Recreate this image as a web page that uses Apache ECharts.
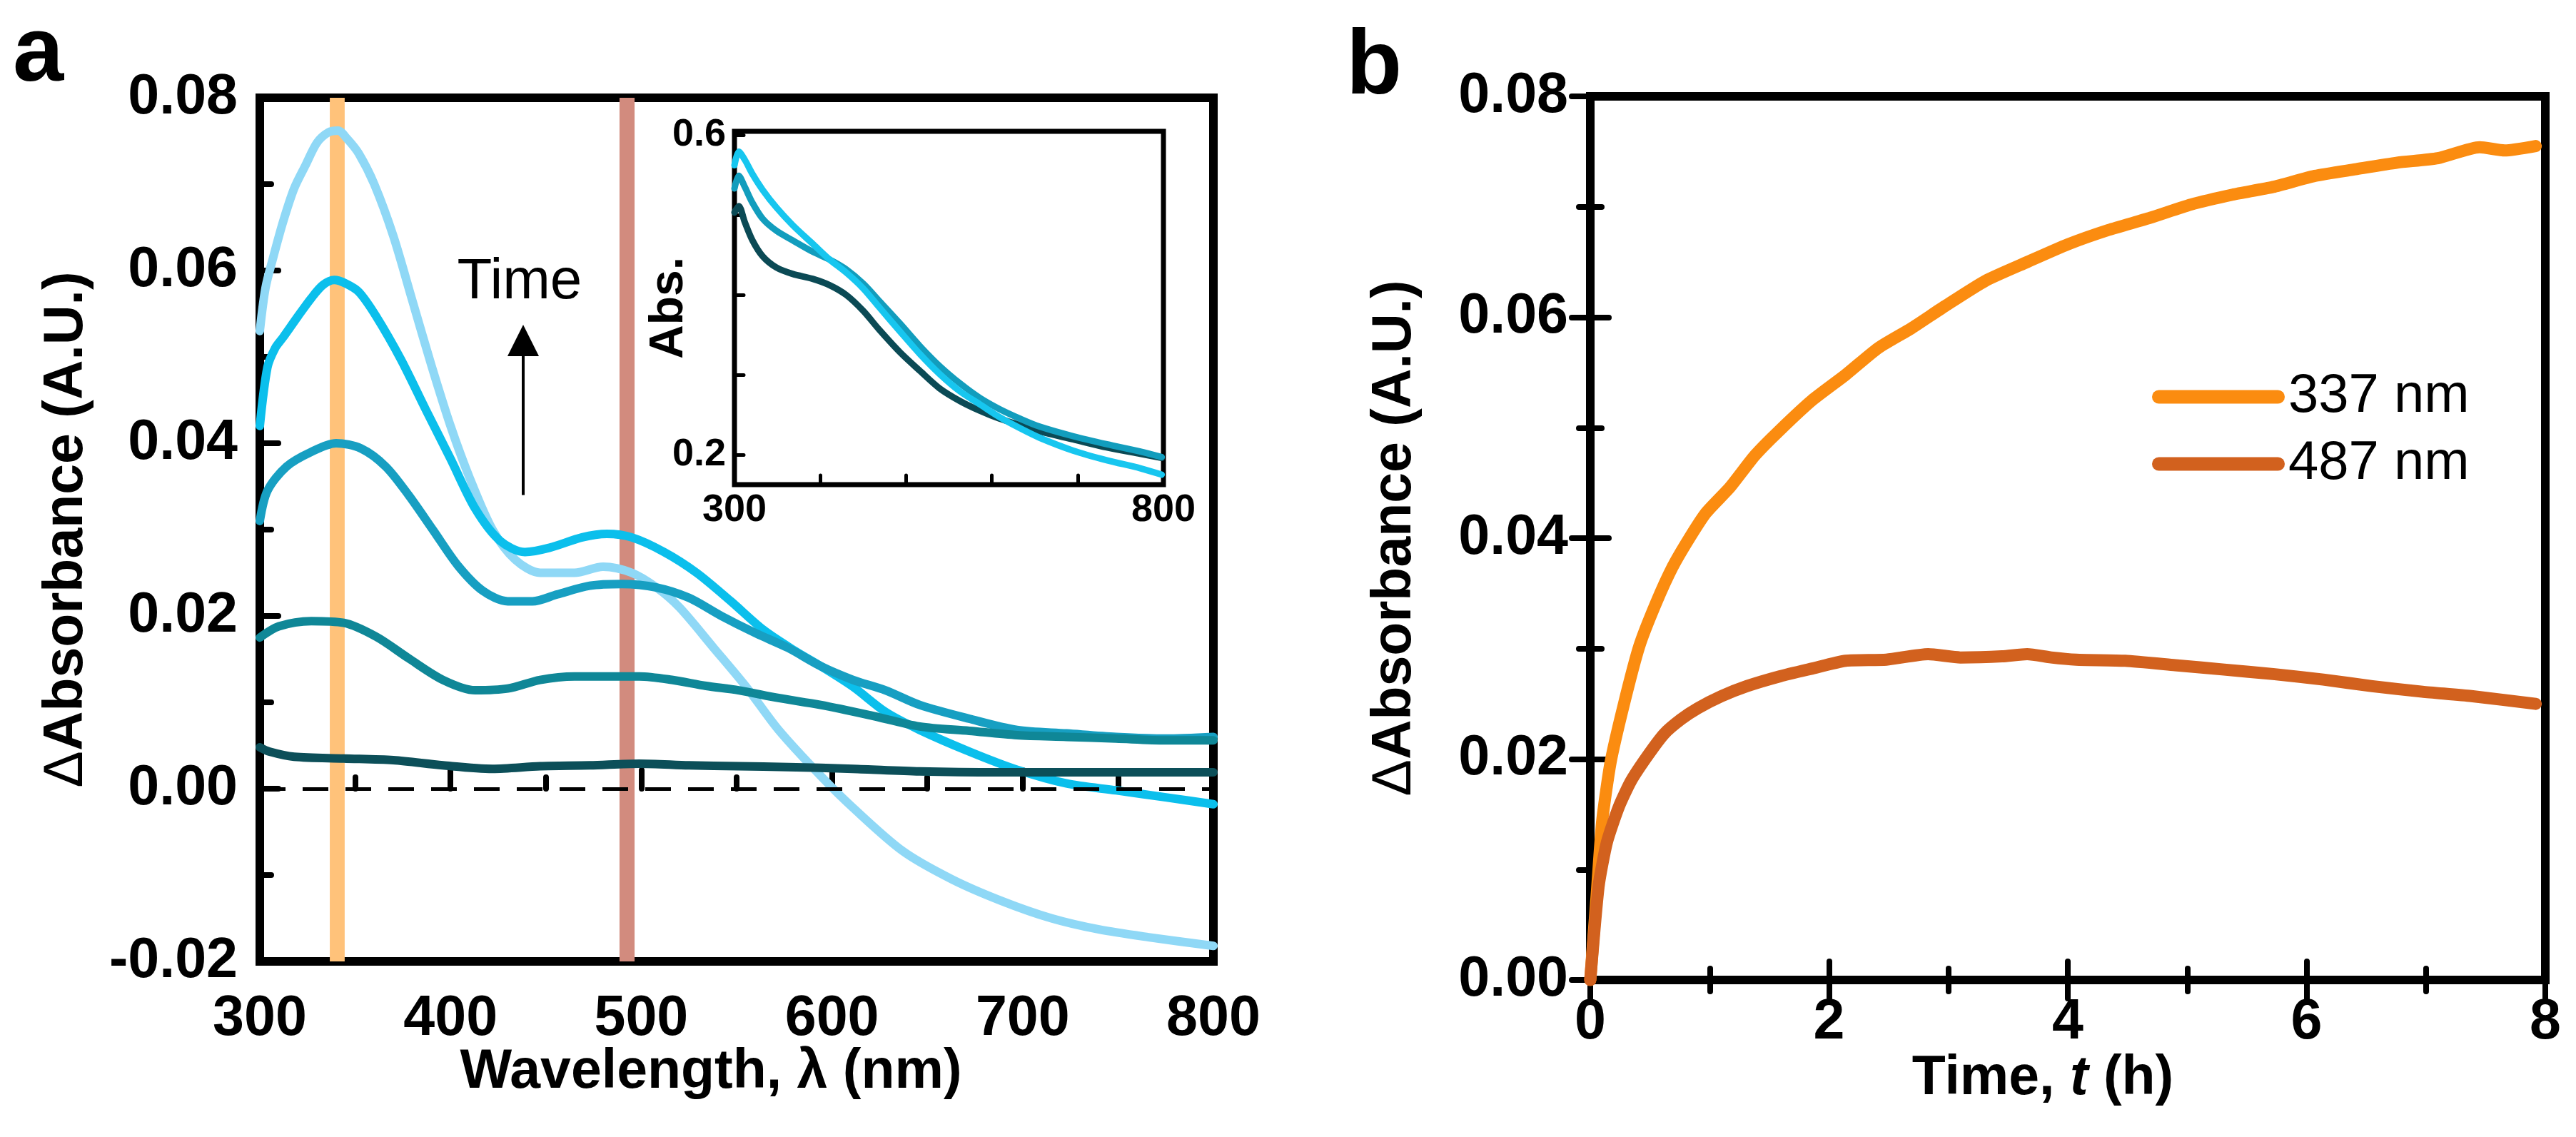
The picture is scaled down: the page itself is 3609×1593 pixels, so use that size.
<!DOCTYPE html>
<html><head><meta charset="utf-8">
<script src="https://cdn.jsdelivr.net/npm/echarts@6/dist/echarts.min.js"></script>
<style>html,body{margin:0;padding:0;background:#fff;}#c{width:3609px;height:1593px;}</style>
</head><body><div id="c"></div>
<script>
// ---------- Panel a: difference spectra ----------
const wlA1 = [300,303,307,312,318,324,330,336,341,346,352,360,370,380,390,400,410,422,434,447,465,480,495,508,520,538,555,572,594,611,637,663,689,715,740,766,800];
const dA1  = [0.053,0.058,0.0615,0.0655,0.0695,0.0722,0.0748,0.076,0.0762,0.0752,0.0735,0.070,0.064,0.0565,0.049,0.042,0.036,0.030,0.0265,0.025,0.025,0.0257,0.025,0.0233,0.021,0.0163,0.0118,0.0068,0.0015,-0.0022,-0.0072,-0.0105,-0.013,-0.015,-0.0163,-0.0172,-0.0182];
const wlA2 = [300,304,308,312,320,327,333,339,345,352,361,374,387,400,413,426,439,452,469,482,495,512,529,547,564,581,594,611,628,646,672,697,723,749,775,800];
const dA2  = [0.042,0.0488,0.051,0.0522,0.0547,0.0568,0.0583,0.0589,0.0585,0.0575,0.0547,0.0497,0.0439,0.0382,0.0324,0.0287,0.0274,0.0279,0.0291,0.0295,0.0291,0.0274,0.025,0.0217,0.0184,0.0159,0.0142,0.0118,0.0089,0.0068,0.0043,0.0022,0.0006,-0.0002,-0.001,-0.0018];
const wlA3 = [300,304,314,327,340,353,366,378,391,404,417,430,443,456,473,490,508,525,542,560,577,594,611,628,646,672,697,723,749,775,800];
const dA3  = [0.031,0.0345,0.0373,0.039,0.040,0.0394,0.0373,0.034,0.0299,0.0258,0.0229,0.0217,0.0217,0.0225,0.0235,0.0237,0.0233,0.0221,0.020,0.018,0.0163,0.0142,0.0126,0.0114,0.0097,0.0081,0.0068,0.0064,0.006,0.0058,0.006];
const wlA4 = [300,310,327,344,361,378,396,413,430,447,465,482,499,516,534,551,572,594,620,646,672,697,723,749,775,800];
const dA4  = [0.0175,0.0188,0.0194,0.0192,0.0176,0.0151,0.0126,0.0114,0.0116,0.0126,0.013,0.013,0.013,0.0126,0.0119,0.0114,0.0105,0.0097,0.0085,0.0072,0.0067,0.0062,0.006,0.0058,0.0056,0.0056];
const wlA5 = [300,305,318,344,370,396,422,447,473,499,525,551,577,611,646,689,740,800];
const dA5  = [0.0048,0.0043,0.0037,0.0035,0.0033,0.0027,0.0023,0.0026,0.0027,0.0029,0.0027,0.0026,0.0025,0.0023,0.002,0.0019,0.0019,0.0019];
const bandOrange = [336.7, 344.5];
const bandRed = [488.6, 496.5];
const aXTicks = [300, 800, 100];
const aYTicks = [-0.02, 0.08, 0.02];

// ---------- Inset: absorbance spectra ----------
const wlIn = [300,305,312,321,333,349,368,391,411,430,450,469,493,516,539,563,586,609,633,656,695,734,773,798];
const absDark = [0.503,0.511,0.491,0.468,0.448,0.434,0.426,0.420,0.412,0.400,0.380,0.356,0.328,0.305,0.283,0.267,0.255,0.245,0.237,0.229,0.219,0.209,0.201,0.196];
const absTeal = [0.533,0.549,0.535,0.515,0.495,0.480,0.468,0.454,0.444,0.432,0.414,0.392,0.364,0.336,0.311,0.289,0.271,0.257,0.245,0.235,0.223,0.213,0.204,0.197];
const absCyan = [0.562,0.579,0.569,0.551,0.531,0.509,0.487,0.464,0.444,0.428,0.408,0.384,0.354,0.326,0.301,0.279,0.263,0.247,0.233,0.221,0.205,0.193,0.183,0.175];
const inYTicks = [0.2, 0.3, 0.4, 0.5, 0.6];
const inYLabels = [0.2, 0.6];
const inXLabels = [300, 800];

// ---------- Panel b: kinetics ----------
const t337 = [0,0.055,0.1,0.17,0.28,0.41,0.55,0.69,0.83,0.97,1.17,1.38,1.59,1.86,2.14,2.41,2.69,2.97,3.31,3.66,4.0,4.34,4.69,5.03,5.38,5.72,6.07,6.41,6.76,7.1,7.45,7.66,7.92];
const d337 = [0,0.0079,0.0144,0.0197,0.0249,0.0302,0.0341,0.0374,0.040,0.0423,0.0446,0.0475,0.0498,0.0525,0.0548,0.0572,0.059,0.061,0.0633,0.065,0.0666,0.0679,0.069,0.0702,0.0711,0.0718,0.0728,0.0734,0.074,0.0744,0.0754,0.0751,0.0755];
const t487 = [0,0.07,0.14,0.24,0.34,0.48,0.62,0.76,0.9,1.1,1.31,1.59,1.86,2.14,2.48,2.83,3.1,3.45,3.66,3.86,4.07,4.48,4.9,5.31,5.72,6.14,6.55,6.97,7.38,7.92];
const d487 = [0,0.0085,0.0125,0.0157,0.018,0.0203,0.0223,0.0236,0.0246,0.0257,0.0266,0.0275,0.0282,0.0289,0.029,0.0295,0.0292,0.0293,0.0295,0.0292,0.029,0.0289,0.0285,0.0281,0.0277,0.0272,0.0266,0.0261,0.0257,0.025];
const legendNames = ['337 nm', '487 nm'];
const bXTicks = [0, 8, 2];
const bYTicks = [0, 0.08, 0.02];

// annotation anchor (data coords)
const timeArrow = [438.1, 0.034, 0.0519];
const timeLabel = [436.2, 0.0586];

// ---------- build ----------
const FONT = '"Liberation Sans", Arial, Helvetica, sans-serif';
const pairs = (xs, ys) => xs.map((x, i) => [x, ys[i]]);
const chart = echarts.init(document.getElementById('c'), null, {renderer: 'canvas', width: 3609, height: 1593});

function tick(len, w) { return {show: true, inside: true, length: len, lineStyle: {color: '#000', width: w, cap: 'round'}}; }
function minor(len, w) { return {show: true, splitNumber: 2, length: len, lineStyle: {color: '#000', width: w, cap: 'round'}}; }
const lab = (size, margin, extra) => Object.assign({fontSize: size, fontWeight: 'bold', fontFamily: FONT, color: '#000', margin: margin}, extra || {});
const nameStyle = (extra) => Object.assign({fontSize: 77, fontWeight: 'bold', fontFamily: FONT, color: '#000'}, extra || {});
const yTitleRich = {
  d: {fontSize: 77, fontWeight: 'normal', fontFamily: FONT, color: '#000'},
  b: {fontSize: 77, fontWeight: 'bold', fontFamily: FONT, color: '#000'}
};

function lineSeries(name, data, color, width, xi, yi, extra) {
  return Object.assign({
    name: name, type: 'line', data: data, xAxisIndex: xi, yAxisIndex: yi,
    symbol: 'none', showSymbol: false, smooth: 0.3, silent: true,
    itemStyle: {color: color},
    lineStyle: {color: color, width: width, cap: 'round', join: 'round'}
  }, extra || {});
}

const option = {
  animation: false,
  backgroundColor: '#fff',
  grid: [
    {left: 364, top: 137, width: 1336, height: 1210, show: true, borderColor: '#000', borderWidth: 12, backgroundColor: 'transparent'},
    {left: 1029, top: 184, width: 601, height: 495, show: true, borderColor: '#000', borderWidth: 7, backgroundColor: 'transparent'},
    {left: 2228, top: 135, width: 1338, height: 1238, show: true, borderColor: '#000', borderWidth: 12, backgroundColor: 'transparent'}
  ],
  xAxis: [
    {gridIndex: 0, type: 'value', min: aXTicks[0], max: aXTicks[1], interval: aXTicks[2],
     axisLine: {show: false}, axisTick: tick(26, 8), minorTick: minor(16, 8), splitLine: {show: false},
     axisLabel: lab(79, 42),
     name: 'Wavelength, λ (nm)', nameLocation: 'middle', nameGap: 117, nameMoveOverlap: false,
     nameTextStyle: nameStyle({padding: [0, 72, 0, 0]})},
    {gridIndex: 1, type: 'value', min: 300, max: 800, interval: 100,
     axisLine: {show: false}, axisTick: tick(13, 5), splitLine: {show: false},
     axisLabel: lab(54, 9, {customValues: inXLabels})},
    {gridIndex: 2, type: 'value', min: bXTicks[0], max: bXTicks[1], interval: bXTicks[2],
     axisLine: {show: false}, axisTick: tick(26, 8), minorTick: minor(16, 8), splitLine: {show: false},
     axisLabel: lab(79, 21),
     name: '{n|Time, }{i|t}{n| (h)}', nameLocation: 'middle', nameGap: 100, nameMoveOverlap: false,
     nameTextStyle: nameStyle({padding: [0, 70, 0, 0], rich: {
       n: {fontSize: 77, fontWeight: 'bold', fontFamily: FONT, color: '#000'},
       i: {fontSize: 77, fontWeight: 'bold', fontStyle: 'italic', fontFamily: FONT, color: '#000'}
     }})},
    {gridIndex: 2, type: 'value', position: 'top', min: bXTicks[0], max: bXTicks[1], interval: bXTicks[2],
     axisLine: {show: false}, axisTick: tick(26, 8), minorTick: minor(16, 8), splitLine: {show: false},
     axisLabel: {show: false}}
  ],
  yAxis: [
    {gridIndex: 0, type: 'value', min: aYTicks[0], max: aYTicks[1], interval: aYTicks[2],
     axisLine: {show: false}, axisTick: tick(26, 8), minorTick: minor(16, 8), splitLine: {show: false},
     axisLabel: lab(79, 31, {formatter: v => v.toFixed(2)}),
     name: '{d|Δ}{b|Absorbance (A.U.)}', nameLocation: 'middle', nameGap: 232, nameRotate: 90, nameMoveOverlap: false,
     nameTextStyle: nameStyle({rich: yTitleRich})},
    {gridIndex: 1, type: 'value', min: 0.1625, max: 0.6045,
     axisLine: {show: false}, axisTick: Object.assign(tick(13, 5), {customValues: inYTicks}), splitLine: {show: false},
     axisLabel: lab(54, 12, {customValues: inYLabels, formatter: v => v.toFixed(1), padding: [0, 0, 20, 0]}),
     name: 'Abs.', nameLocation: 'middle', nameGap: 58, nameRotate: 90, nameMoveOverlap: false,
     nameTextStyle: nameStyle({fontSize: 66})},
    {gridIndex: 2, type: 'value', min: bYTicks[0], max: bYTicks[1], interval: bYTicks[2],
     axisLine: {show: false}, axisTick: tick(26, 8), minorTick: minor(16, 8), splitLine: {show: false},
     axisLabel: lab(79, 31, {formatter: v => v.toFixed(2)}),
     name: '{d|Δ}{b|Absorbance (A.U.)}', nameLocation: 'middle', nameGap: 235, nameRotate: 90, nameMoveOverlap: false,
     nameTextStyle: nameStyle({rich: yTitleRich})},
    {gridIndex: 2, type: 'value', position: 'right', min: bYTicks[0], max: bYTicks[1], interval: bYTicks[2],
     axisLine: {show: false}, axisTick: tick(26, 8), minorTick: minor(16, 8), splitLine: {show: false},
     axisLabel: {show: false}}
  ],
  legend: {
    orient: 'vertical', left: 3010, top: 511, itemWidth: 186, itemHeight: 19, itemGap: 14,
    icon: 'path://M9.5,0H176.5A9.5,9.5,0,0,1,176.5,19H9.5A9.5,9.5,0,0,1,9.5,0Z',
    itemStyle: {borderWidth: 0},
    textStyle: {fontSize: 76, lineHeight: 80, color: '#000', fontFamily: FONT},
    data: legendNames, selectedMode: false
  },
  graphic: [
    {type: 'text', x: 18, y: 78, style: {text: 'a', font: 'bold 128px ' + FONT, fill: '#000', verticalAlign: 'middle'}},
    {type: 'text', x: 1886, y: 96, style: {text: 'b', font: 'bold 128px ' + FONT, fill: '#000', verticalAlign: 'middle'}}
  ],
  series: [
    lineSeries('a1', pairs(wlA1, dA1), '#8fd8f6', 12, 0, 0, {
      z: 3,
      markArea: {silent: true, z: 1, data: [
        [{xAxis: bandOrange[0], itemStyle: {color: '#ffc27a'}}, {xAxis: bandOrange[1]}],
        [{xAxis: bandRed[0], itemStyle: {color: '#d28b7e'}}, {xAxis: bandRed[1]}]
      ]}
    }),
    lineSeries('a2', pairs(wlA2, dA2), '#0bbfec', 12, 0, 0, {z: 3}),
    lineSeries('a3', pairs(wlA3, dA3), '#179fc2', 12, 0, 0, {z: 3}),
    lineSeries('a4', pairs(wlA4, dA4), '#0f8797', 12, 0, 0, {z: 3}),
    lineSeries('a5', pairs(wlA5, dA5), '#0c4f59', 12, 0, 0, {
      z: 3,
      markLine: {silent: true, symbol: ['none', 'none'], label: {show: false},
        lineStyle: {color: '#000', width: 5, type: [36, 24]},
        data: [{yAxis: 0}]}
    }),
    {type: 'line', xAxisIndex: 0, yAxisIndex: 0, data: [], silent: true,
     markLine: {silent: true, symbol: ['none', 'triangle'], symbolSize: 44, label: {show: false},
       lineStyle: {color: '#000', width: 4, type: 'solid'},
       data: [[{coord: [timeArrow[0], timeArrow[1]]}, {coord: [timeArrow[0], timeArrow[2]]}]]},
     markPoint: {silent: true, symbol: 'circle', symbolSize: 1, itemStyle: {color: 'rgba(0,0,0,0)'},
       label: {show: true, position: 'inside', formatter: 'Time', fontSize: 80, fontFamily: FONT, color: '#000'},
       data: [{coord: timeLabel}]}},
    lineSeries('i1', pairs(wlIn, absDark), '#0b4a55', 9, 1, 1),
    lineSeries('i2', pairs(wlIn, absTeal), '#129dbd', 9, 1, 1),
    lineSeries('i3', pairs(wlIn, absCyan), '#17c6ef', 9, 1, 1),
    lineSeries(legendNames[0], pairs(t337, d337), '#fb8c10', 17, 2, 2, {smooth: 0.2}),
    lineSeries(legendNames[1], pairs(t487, d487), '#d2611e', 17, 2, 2, {smooth: 0.2})
  ]
};
chart.setOption(option);
</script></body></html>
